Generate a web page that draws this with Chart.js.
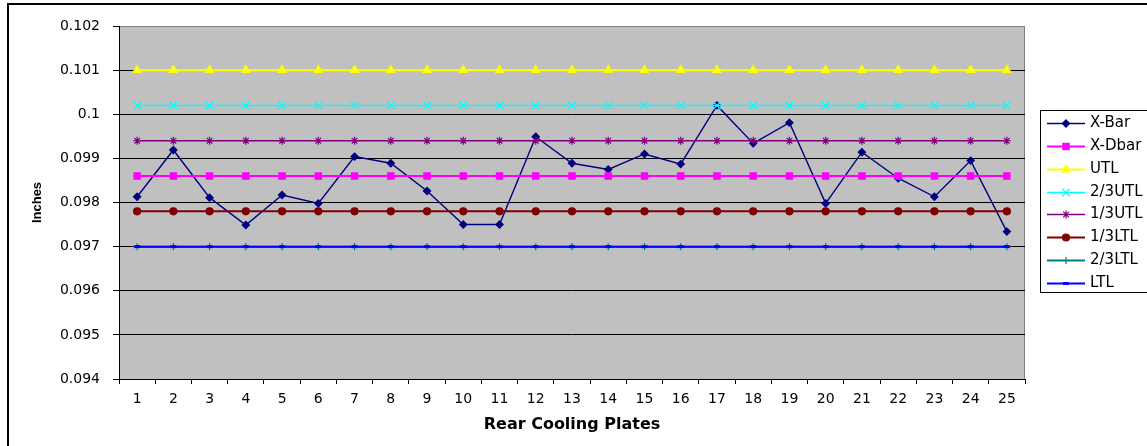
<!DOCTYPE html>
<html>
<head>
<meta charset="utf-8">
<script src="https://cdn.jsdelivr.net/npm/chart.js@4"></script>
<style>
  html, body { margin: 0; padding: 0; background: #fff; }
  #wrap { width: 1147px; height: 446px; }
</style>
</head>
<body>
<div id="wrap"><canvas id="chart" width="1147" height="446"></canvas></div>
<script>
// rear cooling plate numbers
const plates = ['1', '2', '3', '4', '5', '6', '7', '8', '9', '10', '11', '12', '13',
  '14', '15', '16', '17', '18', '19', '20', '21', '22', '23', '24', '25']

const xBar = [0.09813, 0.09919, 0.09811, 0.09749, 0.09817, 0.09798, 0.09904, 0.09889, 0.09826,
  0.0975, 0.0975, 0.09949, 0.09889, 0.09875, 0.0991, 0.09887, 0.1002, 0.09934, 0.09981,
  0.09798, 0.09914, 0.09855, 0.09813, 0.09895, 0.09734]

// centre line and limit lines
const xDbar = [0.0986, 0.0986, 0.0986, 0.0986, 0.0986, 0.0986, 0.0986, 0.0986, 0.0986, 0.0986,
  0.0986, 0.0986, 0.0986, 0.0986, 0.0986, 0.0986, 0.0986, 0.0986, 0.0986, 0.0986,
  0.0986, 0.0986, 0.0986, 0.0986, 0.0986]
const utl = [0.101, 0.101, 0.101, 0.101, 0.101, 0.101, 0.101, 0.101, 0.101, 0.101,
  0.101, 0.101, 0.101, 0.101, 0.101, 0.101, 0.101, 0.101, 0.101, 0.101,
  0.101, 0.101, 0.101, 0.101, 0.101]
const utl23 = [0.1002, 0.1002, 0.1002, 0.1002, 0.1002, 0.1002, 0.1002, 0.1002, 0.1002, 0.1002,
  0.1002, 0.1002, 0.1002, 0.1002, 0.1002, 0.1002, 0.1002, 0.1002, 0.1002, 0.1002,
  0.1002, 0.1002, 0.1002, 0.1002, 0.1002]
const utl13 = [0.0994, 0.0994, 0.0994, 0.0994, 0.0994, 0.0994, 0.0994, 0.0994, 0.0994, 0.0994,
  0.0994, 0.0994, 0.0994, 0.0994, 0.0994, 0.0994, 0.0994, 0.0994, 0.0994, 0.0994,
  0.0994, 0.0994, 0.0994, 0.0994, 0.0994]
const ltl13 = [0.0978, 0.0978, 0.0978, 0.0978, 0.0978, 0.0978, 0.0978, 0.0978, 0.0978, 0.0978,
  0.0978, 0.0978, 0.0978, 0.0978, 0.0978, 0.0978, 0.0978, 0.0978, 0.0978, 0.0978,
  0.0978, 0.0978, 0.0978, 0.0978, 0.0978]
const ltl23 = [0.097, 0.097, 0.097, 0.097, 0.097, 0.097, 0.097, 0.097, 0.097, 0.097,
  0.097, 0.097, 0.097, 0.097, 0.097, 0.097, 0.097, 0.097, 0.097, 0.097,
  0.097, 0.097, 0.097, 0.097, 0.097]
const ltl = [0.097, 0.097, 0.097, 0.097, 0.097, 0.097, 0.097, 0.097, 0.097, 0.097,
  0.097, 0.097, 0.097, 0.097, 0.097, 0.097, 0.097, 0.097, 0.097, 0.097,
  0.097, 0.097, 0.097, 0.097, 0.097]

const yTicks = [0.094, 0.095, 0.096, 0.097, 0.098, 0.099, 0.1, 0.101, 0.102]

const FONT = "'DejaVu Sans', 'Liberation Sans', sans-serif"

function series(label, data, color, style, radius, width, order) {
  return {
    label: label,
    data: data,
    borderColor: color,
    backgroundColor: color,
    borderWidth: width,
    pointStyle: style,
    pointRadius: radius,
    pointBackgroundColor: color,
    pointBorderColor: color,
    pointBorderWidth: style === 'line' ? 3 : 1.2,
    tension: 0,
    order: order,
  }
}

// excel draws later series on top, so give them lower order
const datasets = [
  series('X-Bar', xBar, '#000080', 'rectRot', 3.6, 1.4, 8),
  series('X-Dbar', xDbar, '#FF00FF', 'rect', 4.4, 2, 7),
  series('UTL', utl, '#FFFF00', 'triangle', 4.6, 2, 6),
  series('2/3UTL', utl23, '#00FFFF', 'crossRot', 5.5, 1.5, 5),
  series('1/3UTL', utl13, '#800080', 'star', 4, 1.5, 4),
  series('1/3LTL', ltl13, '#800000', 'circle', 3.5, 2, 3),
  series('2/3LTL', ltl23, '#008080', 'cross', 3.6, 2, 2),
  series('LTL', ltl, '#0000FF', 'line', 3, 2, 1),
]

const plotFrame = {
  id: 'plotFrame',
  beforeDraw(chart) {
    const { ctx, chartArea: a } = chart
    ctx.save()
    ctx.fillStyle = '#C0C0C0'
    ctx.fillRect(a.left, a.top, a.right - a.left, a.bottom - a.top)
    ctx.strokeStyle = '#808080'
    ctx.lineWidth = 1
    ctx.strokeRect(a.left + 0.5, a.top + 0.5, a.right - a.left - 1, a.bottom - a.top)
    ctx.restore()
  },
  afterDraw(chart) {
    const ctx = chart.ctx
    ctx.save()
    // outer chart border (cut off on the right and bottom)
    ctx.strokeStyle = '#000'
    ctx.lineWidth = 2
    ctx.beginPath()
    ctx.moveTo(8, 460)
    ctx.lineTo(8, 4)
    ctx.lineTo(1160, 4)
    ctx.stroke()

    // legend box, excel style: line with marker, then the name
    const left = 1040, top = 110, bottom = 292
    ctx.lineWidth = 1
    ctx.fillStyle = '#fff'
    ctx.fillRect(left, top, 200, bottom - top)
    ctx.strokeRect(left + 0.5, top + 0.5, 200, bottom - top)
    ctx.font = '15px ' + FONT
    ctx.textBaseline = 'middle'
    chart.data.datasets.forEach((ds, i) => {
      const y = Math.round(123 + i * 22.85) + 0.5
      ctx.strokeStyle = ds.borderColor
      ctx.lineWidth = ds.borderWidth
      ctx.beginPath()
      ctx.moveTo(1047, y)
      ctx.lineTo(1085, y)
      ctx.stroke()
      ctx.fillStyle = ds.pointBackgroundColor
      ctx.strokeStyle = ds.pointBorderColor
      ctx.lineWidth = ds.pointBorderWidth
      Chart.helpers.drawPoint(ctx, {
        pointStyle: ds.pointStyle,
        radius: ds.pointRadius,
        rotation: 0,
        borderWidth: ds.pointBorderWidth,
      }, 1066, y)
      ctx.fillStyle = '#000'
      ctx.fillText(ds.label, 1090, y)
    })
    ctx.restore()
  },
}

new Chart(document.getElementById('chart'), {
  type: 'line',
  data: { labels: plates, datasets: datasets },
  plugins: [plotFrame],
  options: {
    responsive: false,
    animation: false,
    layout: { padding: { top: 26, right: 122, bottom: 0, left: 0 } },
    plugins: {
      legend: { display: false },
      tooltip: { enabled: false },
    },
    scales: {
      x: {
        type: 'category',
        offset: true,
        grid: {
          offset: true,
          drawOnChartArea: false,
          drawTicks: true,
          tickLength: 5,
          tickColor: '#000',
        },
        border: { color: '#000', width: 1 },
        ticks: {
          color: '#000',
          padding: 7,
          maxRotation: 0,
          autoSkip: false,
          font: { family: FONT, size: 14 },
        },
        title: {
          display: true,
          text: 'Rear Cooling Plates',
          color: '#000',
          padding: { top: 12, bottom: 12 },
          font: { family: FONT, size: 16, weight: 'bold' },
        },
        afterFit(scale) {
          scale.height = 67
          scale.paddingLeft = 0
          scale.paddingRight = 0
        },
      },
      y: {
        min: 0.094,
        max: 0.102,
        afterBuildTicks(scale) {
          scale.ticks = yTicks.map((v) => ({ value: v }))
        },
        grid: {
          color: (c) => (c.tick && c.tick.value >= 0.102 ? '#808080' : '#000'),
          lineWidth: 1,
          tickLength: 6,
          tickColor: '#000',
        },
        border: { color: '#000', width: 1 },
        ticks: {
          color: '#000',
          padding: 13,
          font: { family: FONT, size: 14 },
          callback: (v) => String(+Number(v).toFixed(4)),
        },
        title: {
          display: true,
          text: 'Inches',
          color: '#000',
          padding: { top: 30, bottom: 0 },
          font: { family: "'Liberation Sans Narrow', 'Liberation Sans', sans-serif", size: 13, weight: 'bold' },
        },
        afterFit(scale) {
          scale.width = 119
          scale.paddingTop = 0
          scale.paddingBottom = 0
        },
      },
    },
  },
})
</script>
</body>
</html>
